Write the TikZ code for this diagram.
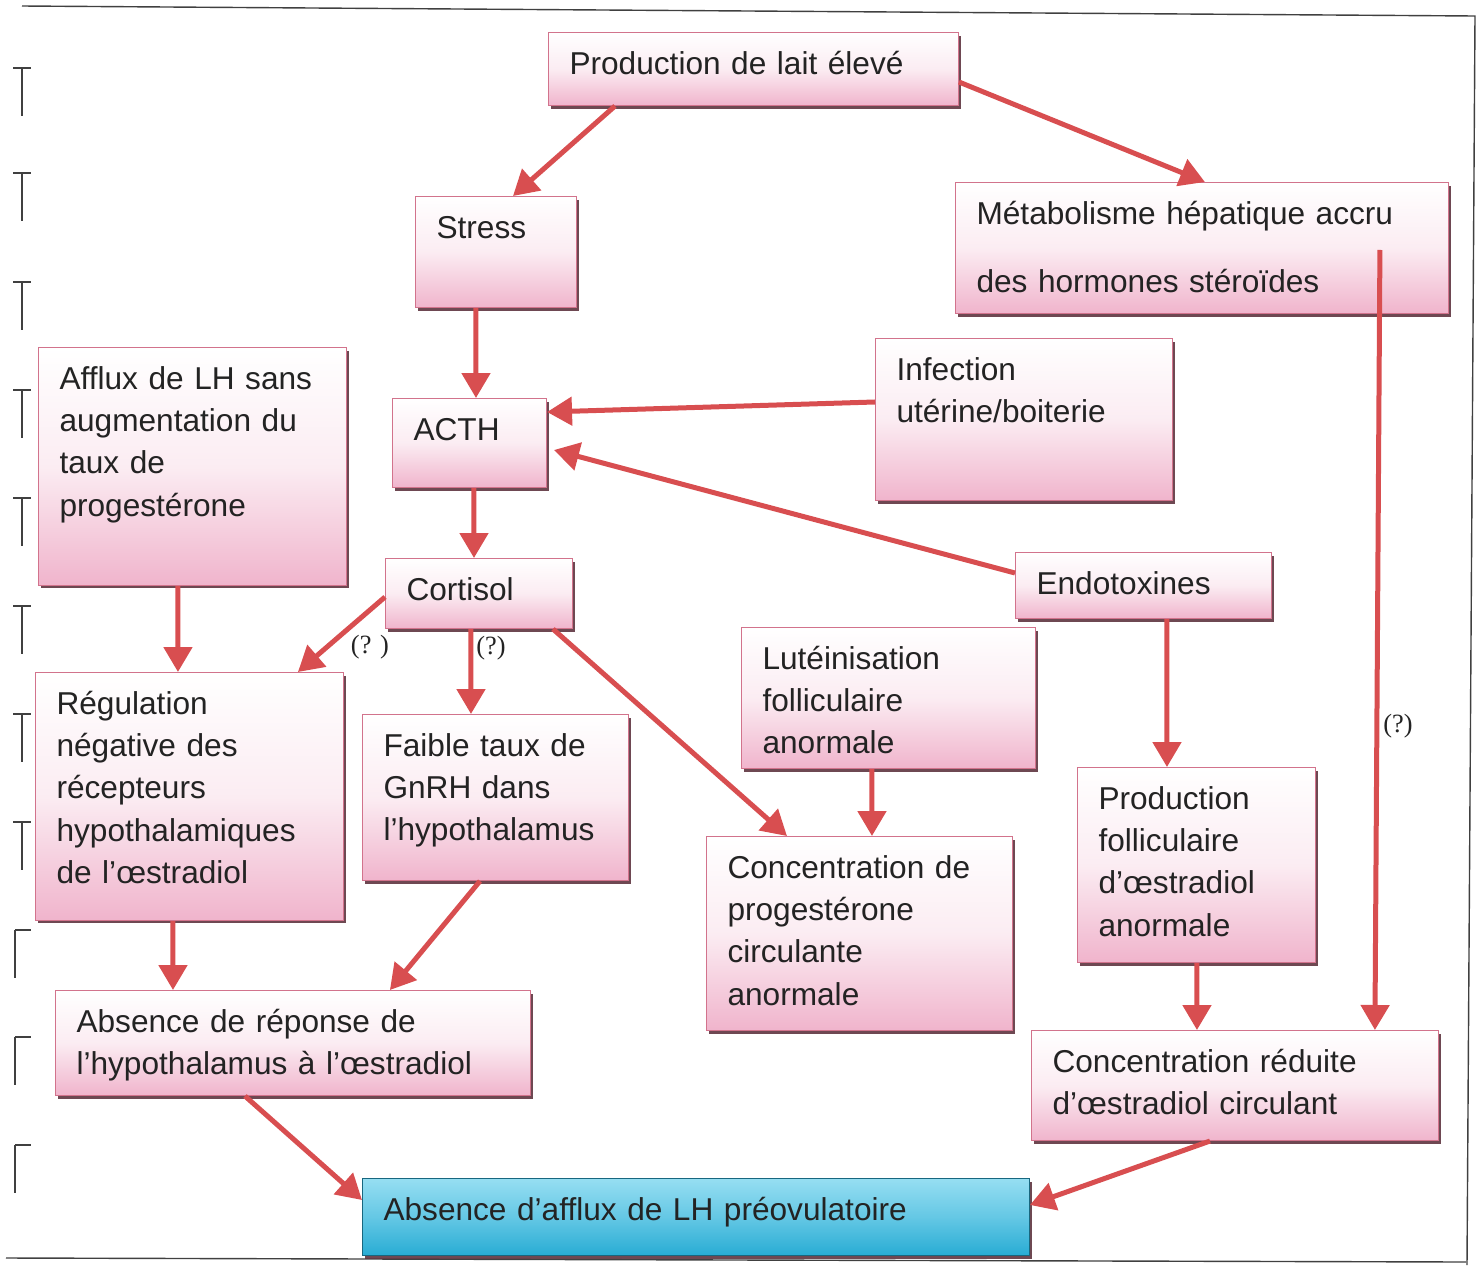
\documentclass[tikz,border=0pt]{standalone}
\usepackage{fontspec}
\setmainfont{Liberation Sans}
\newfontfamily\qfont{Liberation Serif}
\usetikzlibrary{arrows.meta,shadows}

\definecolor{boxpink}{RGB}{240,180,204}
\definecolor{boxedge}{RGB}{210,115,140}
\definecolor{flowred}{RGB}{216,78,80}
\definecolor{lhblue}{RGB}{40,172,212}
\definecolor{lhtop}{RGB}{150,222,242}
\definecolor{inkgray}{RGB}{35,35,35}

\begin{document}
\begin{tikzpicture}[
  x=0.02cm, y=-0.02cm,
  box/.style={draw=boxedge, line width=0.6pt, anchor=north west, align=left,
    top color=white, bottom color=boxpink, middle color=white!75!boxpink,
    inner xsep=0.42cm, inner ysep=0.38cm, text height=0.46cm,
    font=\fontsize{18}{24}\selectfont, text=inkgray,
    drop shadow={shadow xshift=0.05cm, shadow yshift=-0.06cm, fill=black!55!boxedge, opacity=0.9}},
  lhbox/.style={box, draw=lhblue!60!black, top color=lhtop, bottom color=lhblue,
    middle color=lhtop!55!lhblue},
  flow/.style={-{Triangle[length=0.5cm, width=0.56cm]}, draw=flowred, line width=0.1cm},
  query/.style={font=\qfont\fontsize{15}{16}\selectfont, text=inkgray},
  frame/.style={draw=black!75, line width=0.8pt}
]
\useasboundingbox (0,0) rectangle (1478,1265);

% scan frame and margin marks
\draw[frame] (22,6) -- (1475,16) -- (1467,1265);
\draw[frame] (6,1258) -- (1466,1262);
\foreach \ty in {68,173,282,390,498,606,714,822}
  \draw[frame, line width=0.6pt] (13,\ty) -- (31,\ty) (22,\ty) -- (22,\ty+48);
\foreach \ty in {930,1037,1145}
  \draw[frame, line width=0.6pt] (15,\ty) -- (31,\ty) (15,\ty) -- (15,\ty+48);

% boxes
\node[box, text width=7.36cm, text depth=0.24cm] (milk) at (548,32) {Production de lait élevé};
\node[box, text width=2.38cm, text depth=1.00cm] (stress) at (415,196) {Stress};
\node[box, text width=9.02cm, text depth=1.40cm] (liver) at (955,182) {Métabolisme hépatique accru\\[0.52cm]des hormones stéroïdes};
\node[box, text width=5.32cm, text depth=3.54cm] (surge) at (38,347) {Afflux de LH sans\\augmentation du\\taux de\\progestérone};
\node[box, text width=2.24cm, text depth=0.56cm] (acth) at (392,398) {ACTH};
\node[box, text width=5.10cm, text depth=2.02cm] (infect) at (875,338) {Infection\\utérine/boiterie};
\node[box, text width=2.90cm, text depth=0.18cm] (cortisol) at (385,558) {Cortisol};
\node[box, text width=4.28cm, text depth=0.10cm] (endotox) at (1015,552) {Endotoxines};
\node[box, text width=5.04cm, text depth=1.60cm] (luteal) at (741,627) {Lutéinisation\\folliculaire\\anormale};
\node[box, text width=5.32cm, text depth=3.74cm] (downreg) at (35,672) {Régulation\\négative des\\récepteurs\\hypothalamiques\\de l’œstradiol};
\node[box, text width=4.48cm, text depth=2.10cm] (gnrh) at (362,714) {Faible taux de\\GnRH dans\\l’hypothalamus};
\node[box, text width=5.28cm, text depth=2.66cm] (progest) at (706,836) {Concentration de\\progestérone\\circulante\\anormale};
\node[box, text width=3.92cm, text depth=2.68cm] (follic) at (1077,767) {Production\\folliculaire\\d’œstradiol\\anormale};
\node[box, text width=8.66cm, text depth=0.88cm] (noresp) at (55,990) {Absence de réponse de\\l’hypothalamus à l’œstradiol};
\node[box, text width=7.30cm, text depth=0.98cm] (lowestr) at (1031,1030) {Concentration réduite\\d’œstradiol circulant};
\node[lhbox, text width=12.50cm, text depth=0.32cm] (nosurge) at (362,1178) {Absence d’afflux de LH préovulatoire};

% question marks
\node[query] (qdown) at (370,647) {(? )};
\node[query] (qgnrh) at (491,648) {(?)};
\node[query] (qliver) at (1398,726) {(?)};

% arrows
\draw[flow] ([xshift=1.34cm]milk.south west) -- ([xshift=1.96cm]stress.north west);
\draw[flow] ([yshift=-1.00cm]milk.north east) -- ([xshift=5.00cm]liver.north west);
\draw[flow] ([xshift=1.22cm]stress.south west) -- ([xshift=1.68cm]acth.north west);
\draw[flow] ([yshift=-1.28cm]infect.north west) -- ([yshift=-0.28cm]acth.north east);
\draw[flow] ([yshift=-0.42cm]endotox.north west) -- ([xshift=0.14cm, yshift=-1.04cm]acth.north east);
\draw[flow] ([xshift=1.64cm]acth.south west) -- ([xshift=1.78cm]cortisol.north west);
\draw[flow] ([yshift=-0.78cm]cortisol.north west) -- ([xshift=5.26cm]downreg.north west);
\draw[flow] ([xshift=1.72cm]cortisol.south west) -- ([xshift=2.18cm]gnrh.north west);
\draw[flow] ([xshift=3.36cm]cortisol.south west) -- ([xshift=1.62cm]progest.north west);
\draw[flow] ([xshift=2.62cm]luteal.south west) -- ([xshift=3.32cm]progest.north west);
\draw[flow] ([xshift=3.04cm]endotox.south west) -- ([xshift=1.80cm]follic.north west);
\draw[flow] ([xshift=8.50cm, yshift=-1.36cm]liver.north west) -- ([xshift=6.88cm]lowestr.north west);
\draw[flow] ([xshift=2.80cm]surge.south west) -- ([xshift=2.86cm]downreg.north west);
\draw[flow] ([xshift=2.76cm]downreg.south west) -- ([xshift=2.36cm]noresp.north west);
\draw[flow] ([xshift=2.36cm]gnrh.south west) -- ([xshift=6.70cm]noresp.north west);
\draw[flow] ([xshift=2.40cm]follic.south west) -- ([xshift=3.32cm]lowestr.north west);
\draw[flow] ([xshift=3.80cm]noresp.south west) -- ([yshift=-0.44cm]nosurge.north west);
\draw[flow] ([xshift=3.58cm]lowestr.south west) -- ([yshift=-0.54cm]nosurge.north east);
\end{tikzpicture}
\end{document}
